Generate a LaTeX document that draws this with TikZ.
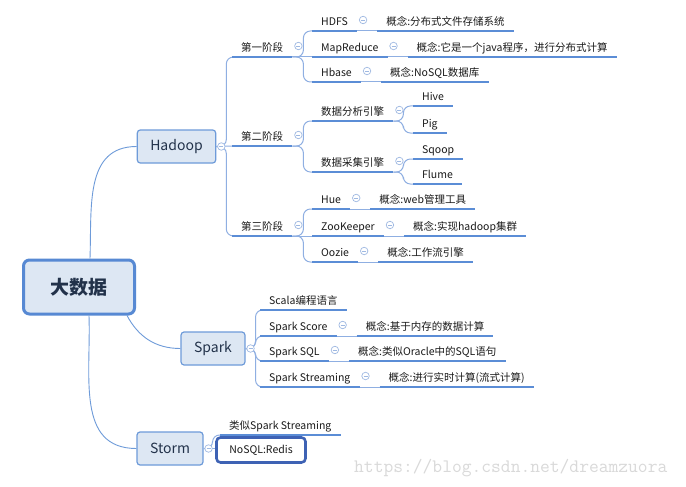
\documentclass[tikz,border=0pt]{standalone}
\usepackage{fontspec}
\setmainfont{Noto Sans CJK SC}
\usepackage{tikz}
\usetikzlibrary{positioning, calc}

\definecolor{uline}{HTML}{5B8DD6}
\definecolor{connc}{HTML}{8FAFE2}
\definecolor{nodefill}{HTML}{DDE7F3}
\definecolor{nodeline}{HTML}{6E9BD9}
\definecolor{rootline}{HTML}{5789D3}
\definecolor{selline}{HTML}{3E62B4}
\definecolor{foldc}{HTML}{9FB9E2}
\definecolor{leaftext}{HTML}{1A1A1A}
\definecolor{maintext}{HTML}{22324A}
\definecolor{marktext}{HTML}{D9D9D9}

\begin{document}
\begin{tikzpicture}[x=1pt, y=-1pt,
    topic/.style={anchor=south west, inner xsep=9pt, inner ysep=3.5pt, text height=8pt, text depth=2pt,
        font=\fontsize{10.5}{12}\selectfont, text=leaftext},
    main/.style={draw=nodeline, fill=nodefill, line width=1.2pt, rounded corners=3pt,
        minimum height=33pt, inner xsep=13pt, font=\fontsize{14}{16}\selectfont, text=maintext},
    underl/.style={uline, line width=1.7pt},
    conn/.style={connc, line width=1pt, rounded corners=7pt},
    rootconn/.style={nodeline, line width=0.9pt},
    fold/.style={circle, draw=foldc, fill=white, line width=0.7pt, minimum size=7.5pt, inner sep=0pt,
        path picture={\draw[foldc, line width=0.8pt] ([xshift=-2pt]path picture bounding box.center) -- ([xshift=2pt]path picture bounding box.center);}}
]

    \path[use as bounding box, fill=white] (0,0) rectangle (686,487);

    % ==========================================
    % Root and main branches
    % ==========================================
    \node[draw=rootline, fill=nodefill, line width=3pt, rounded corners=6pt, minimum width=111pt, minimum height=54pt,
        font=\fontsize{19}{22}\selectfont\bfseries, text=maintext] (root) at (79,287) {大数据};

    \node[main] (hadoop) at (176.5,146.5) {Hadoop};
    \node[main] (spark) at (213,348.5) {Spark};
    \node[main] (storm) at (170,448.5) {Storm};

    \draw[rootconn] ([xshift=11pt]root.north) to[out=88, in=180, looseness=1.1] (hadoop.west);
    \draw[rootconn] ([xshift=-9pt]root.south east) to[out=-62, in=180] (spark.west);
    \draw[rootconn] ([xshift=10pt]root.south) to[out=-88, in=180, looseness=1.1] (storm.west);

    % ==========================================
    % Hadoop
    % ==========================================
    \node[topic] (s1) at (232,57) {第一阶段};
    \node[topic] (s2) at (232,146) {第二阶段};
    \node[topic] (s3) at (232,236) {第三阶段};

    \node[topic] (hdfs) at (312,31) {HDFS};
    \node[topic] (mapred) at (312,57) {MapReduce};
    \node[topic] (hbase) at (312,82) {Hbase};
    \node[topic, right=20pt of hdfs.south east, anchor=south west] (c-hdfs) {概念:分布式文件存储系统};
    \node[topic, right=20pt of mapred.south east, anchor=south west] (c-mapred) {概念:它是一个java程序，进行分布式计算};
    \node[topic, right=20pt of hbase.south east, anchor=south west] (c-hbase) {概念:NoSQL数据库};

    \node[topic] (ana) at (312,121) {数据分析引擎};
    \node[topic] (coll) at (312,172) {数据采集引擎};
    \node[topic] (hive) at (413,106) {Hive};
    \node[topic] (pig) at (413,133) {Pig};
    \node[topic] (sqoop) at (413,159) {Sqoop};
    \node[topic] (flume) at (413,184) {Flume};

    \node[topic] (hue) at (312,209) {Hue};
    \node[topic] (zk) at (312,236) {ZooKeeper};
    \node[topic] (oozie) at (312,262) {Oozie};
    \node[topic, right=20pt of hue.south east, anchor=south west] (c-hue) {概念:web管理工具};
    \node[topic, right=20pt of zk.south east, anchor=south west] (c-zk) {概念:实现hadoop集群};
    \node[topic, right=20pt of oozie.south east, anchor=south west] (c-oozie) {概念:工作流引擎};

    \draw[conn] (hadoop.east) -- ++(10,0) |- (s1.south west);
    \draw[conn] (hadoop.east) -- (s2.south west);
    \draw[conn] (hadoop.east) -- ++(10,0) |- (s3.south west);

    \draw[conn] (s1.south east) -- ++(11,0) |- (hdfs.south west);
    \draw[conn] (s1.south east) -- (mapred.south west);
    \draw[conn] (s1.south east) -- ++(11,0) |- (hbase.south west);

    \draw[conn] (s2.south east) -- ++(11,0) |- (ana.south west);
    \draw[conn] (s2.south east) -- ++(11,0) |- (coll.south west);
    \draw[conn] (ana.south east) -- ++(10,0) |- (hive.south west);
    \draw[conn] (ana.south east) -- ++(10,0) |- (pig.south west);
    \draw[conn] (coll.south east) -- ++(10,0) |- (sqoop.south west);
    \draw[conn] (coll.south east) -- ++(10,0) |- (flume.south west);

    \draw[conn] (s3.south east) -- ++(11,0) |- (hue.south west);
    \draw[conn] (s3.south east) -- (zk.south west);
    \draw[conn] (s3.south east) -- ++(11,0) |- (oozie.south west);

    % ==========================================
    % Spark
    % ==========================================
    \node[topic] (scala) at (260,310) {Scala编程语言};
    \node[topic] (score) at (260,336) {Spark Score};
    \node[topic] (ssql) at (260,361) {Spark SQL};
    \node[topic] (stream) at (260,387) {Spark Streaming};
    \node[topic, right=20pt of score.south east, anchor=south west] (c-score) {概念:基于内存的数据计算};
    \node[topic, right=20pt of ssql.south east, anchor=south west] (c-ssql) {概念:类似Oracle中的SQL语句};
    \node[topic, right=20pt of stream.south east, anchor=south west] (c-stream) {概念:进行实时计算(流式计算)};

    \foreach \n in {scala,score,ssql,stream}
        \draw[conn] (spark.east) -- ++(10,0) |- (\n.south west);

    % ==========================================
    % Storm
    % ==========================================
    \node[topic] (like) at (220,435) {类似Spark Streaming};
    \draw[conn] (storm.east) -- ++(9,0) |- (like.south west);
    \draw[conn] (storm.east) -- ++(13,0);
    \node[draw=selline, fill=white, line width=2.6pt, rounded corners=4pt, minimum width=89pt, minimum height=25pt,
        font=\fontsize{10.5}{12}\selectfont, text=leaftext] (redis) at (261,450) {NoSQL:Redis};

    % concept links
    \foreach \n in {hdfs,mapred,hbase,hue,zk,oozie,score,ssql,stream}
        \draw[conn] (\n.south east) -- (c-\n.south west);

    % underlines
    \foreach \n in {s1,s2,s3,hdfs,mapred,hbase,ana,coll,hive,pig,sqoop,flume,hue,zk,oozie,
                    c-hdfs,c-mapred,c-hbase,c-hue,c-zk,c-oozie,scala,score,ssql,stream,c-score,c-ssql,c-stream,like}
        \draw[underl] (\n.south west) -- (\n.south east);

    % fold markers
    \foreach \n in {hadoop,spark,storm}
        \node[fold] (f-\n) at ([xshift=5pt]\n.east) {};
    \foreach \n in {s1,s2,s3,hdfs,mapred,hbase,ana,coll,hue,zk,oozie,score,ssql,stream}
        \node[fold] (f-\n) at ($(\n.south east)+(6,-11)$) {};

    % watermark
    \node[anchor=west, inner sep=0pt, text=marktext, font=\ttfamily\fontsize{19}{21}\selectfont] (mark) at (354,468) {https://blog.csdn.net/dreamzuora};

\end{tikzpicture}
\end{document}
